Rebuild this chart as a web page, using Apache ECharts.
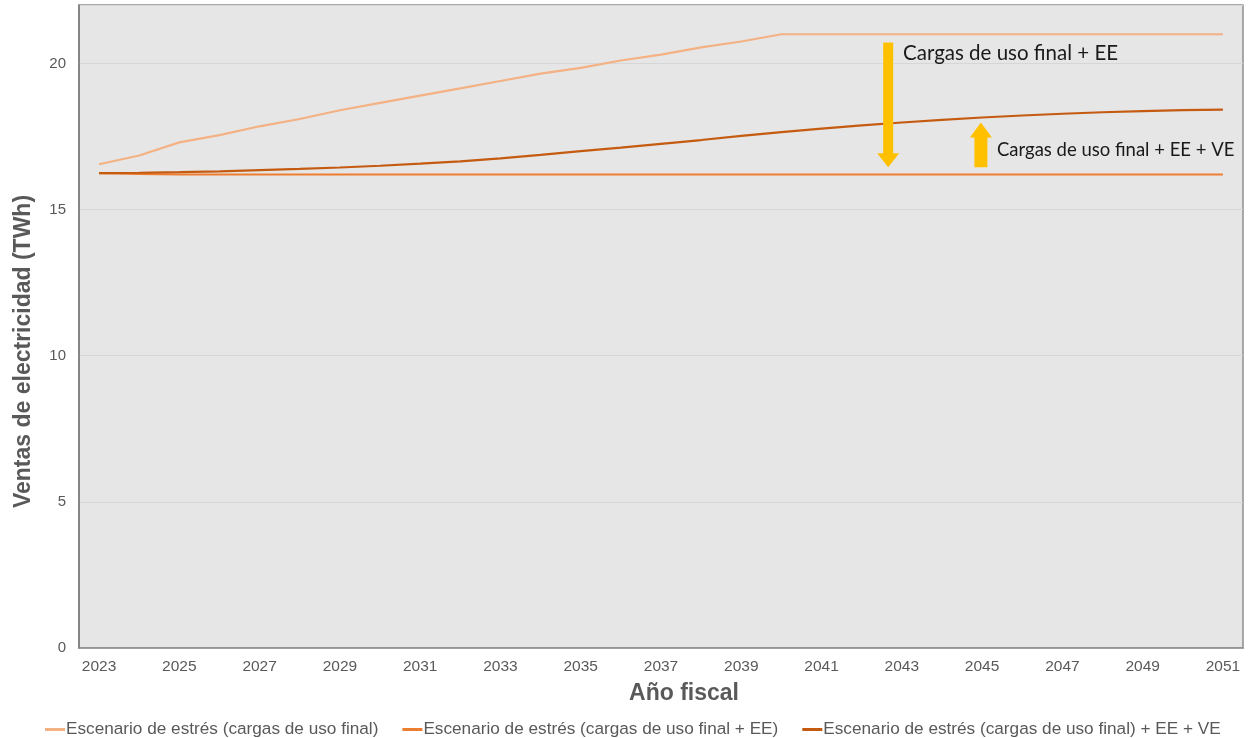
<!DOCTYPE html>
<html>
<head>
<meta charset="utf-8">
<script src="https://cdn.jsdelivr.net/npm/echarts@6/dist/echarts.min.js"></script>
<style>
  html, body { margin: 0; padding: 0; background: #ffffff; }
  #chart { width: 1248px; height: 738px; }
</style>
</head>
<body>
<div id="chart"></div>
<script>
// Fiscal years on the horizontal axis
const years = [
  '2023','2024','2025','2026','2027','2028','2029','2030','2031','2032',
  '2033','2034','2035','2036','2037','2038','2039','2040','2041','2042',
  '2043','2044','2045','2046','2047','2048','2049','2050','2051'
];

// Electricity sales, TWh
const usoFinal = [
  16.55, 16.85, 17.3, 17.55, 17.85, 18.1, 18.4, 18.65, 18.9, 19.15,
  19.4, 19.65, 19.85, 20.1, 20.3, 20.55, 20.75, 21.0, 21.0, 21.0,
  21.0, 21.0, 21.0, 21.0, 21.0, 21.0, 21.0, 21.0, 21.0
];
const usoFinalEE = [
  16.25, 16.22, 16.2, 16.2, 16.2, 16.2, 16.2, 16.2, 16.2, 16.2,
  16.2, 16.2, 16.2, 16.2, 16.2, 16.2, 16.2, 16.2, 16.2, 16.2,
  16.2, 16.2, 16.2, 16.2, 16.2, 16.2, 16.2, 16.2, 16.2
];
const usoFinalEEVE = [
  16.25, 16.26, 16.28, 16.31, 16.35, 16.39, 16.44, 16.5, 16.57, 16.65,
  16.75, 16.87, 17.0, 17.12, 17.25, 17.38, 17.52, 17.65, 17.77, 17.88,
  17.98, 18.07, 18.15, 18.22, 18.28, 18.33, 18.37, 18.4, 18.42
];

const seriesNames = [
  'Escenario de estrés (cargas de uso final)',
  'Escenario de estrés (cargas de uso final + EE)',
  'Escenario de estrés (cargas de uso final) + EE + VE'
];

// Annotation arrows: [year index, from value, to value]
const arrowDown = [19.66, 20.72, 16.45];
const arrowUp = [21.97, 16.45, 17.98];
const noteEE = 'Cargas de uso final + EE';
const noteEEVE = 'Cargas de uso final + EE + VE';

const chart = echarts.init(document.getElementById('chart'));
const axisGray = '#595959';

chart.setOption({
  animation: false,
  backgroundColor: '#ffffff',
  grid: {
    left: 79, right: 5, top: 5, bottom: 90,
    show: true,
    backgroundColor: '#e6e6e6',
    borderColor: '#8f8f8f',
    borderWidth: 1.5
  },
  legend: {
    top: 716,
    left: 40,
    itemGap: 24,
    itemWidth: 20,
    itemHeight: 3,
    icon: 'rect',
    textStyle: { fontFamily: 'Liberation Sans', fontSize: 17.2, color: axisGray, padding: [0, 0, 0, -4] },
    data: seriesNames
  },
  xAxis: {
    type: 'category',
    data: years,
    boundaryGap: true,
    name: 'Año fiscal',
    nameLocation: 'middle',
    nameGap: 34,
    nameTextStyle: { fontFamily: 'Liberation Sans', fontSize: 23, fontWeight: 'bold', color: axisGray, padding: [0, 0, 0, 46] },
    axisLine: { show: true, lineStyle: { color: '#8f8f8f', width: 1.5 } },
    axisTick: { show: false },
    axisLabel: { interval: 1, fontFamily: 'Liberation Sans', fontSize: 15.5, color: axisGray, margin: 11 },
    splitLine: { show: false }
  },
  yAxis: {
    type: 'value',
    min: 0,
    max: 22,
    interval: 5,
    name: 'Ventas de electricidad (TWh)',
    nameLocation: 'middle',
    nameGap: 44,
    nameTextStyle: { fontFamily: 'Liberation Sans', fontSize: 23, fontWeight: 'bold', color: axisGray, padding: [0, 50, 0, 0] },
    axisLine: { show: true, lineStyle: { color: '#7a7a7a', width: 1.5 } },
    axisTick: { show: false },
    axisLabel: { showMaxLabel: false, fontFamily: 'Liberation Sans', fontSize: 15, color: axisGray, margin: 13 },
    splitLine: { show: true, lineStyle: { color: '#d6d6d6', width: 1.2 } }
  },
  series: [
    {
      name: seriesNames[0], type: 'line', data: usoFinal,
      symbol: 'none', smooth: false,
      lineStyle: { color: '#f4b183', width: 2.2 }, itemStyle: { color: '#f4b183' }, z: 3
    },
    {
      name: seriesNames[1], type: 'line', data: usoFinalEE,
      symbol: 'none',
      lineStyle: { color: '#ed7d31', width: 2.2 }, itemStyle: { color: '#ed7d31' }, z: 4
    },
    {
      name: seriesNames[2], type: 'line', data: usoFinalEEVE,
      symbol: 'none',
      lineStyle: { color: '#c55a11', width: 2.2 }, itemStyle: { color: '#c55a11' }, z: 5
    }
  ]
});

// Convert a fractional year index and a value to pixels
function toPx(idx, val) {
  const i0 = Math.floor(idx), i1 = Math.min(i0 + 1, years.length - 1);
  const p0 = chart.convertToPixel({ gridIndex: 0 }, [years[i0], val]);
  const p1 = chart.convertToPixel({ gridIndex: 0 }, [years[i1], val]);
  const t = idx - i0;
  return [p0[0] + (p1[0] - p0[0]) * t, p0[1]];
}

// Build a block arrow polygon pointing from `from` to `to` (vertical)
function arrowPoints(x, yFrom, yTo, shaftW, headW, headH) {
  const dir = yTo > yFrom ? 1 : -1;
  const yNeck = yTo - dir * headH;
  return [
    [x - shaftW / 2, yFrom], [x + shaftW / 2, yFrom],
    [x + shaftW / 2, yNeck], [x + headW / 2, yNeck],
    [x, yTo],
    [x - headW / 2, yNeck], [x - shaftW / 2, yNeck]
  ];
}

const dTop = toPx(arrowDown[0], arrowDown[1]);
const dBot = toPx(arrowDown[0], arrowDown[2]);
const uBot = toPx(arrowUp[0], arrowUp[1]);
const uTop = toPx(arrowUp[0], arrowUp[2]);
const t1 = toPx(arrowDown[0] + 0.37, 20.35);
const t2 = toPx(arrowUp[0] + 0.4, 17.05);

chart.setOption({
  graphic: [
    {
      type: 'polygon', z: 100,
      shape: { points: arrowPoints(dTop[0], dTop[1], dBot[1], 10, 22, 14) },
      style: { fill: '#ffc000' }
    },
    {
      type: 'polygon', z: 100,
      shape: { points: arrowPoints(uBot[0], uBot[1], uTop[1], 13, 22, 15) },
      style: { fill: '#ffc000' }
    },
    {
      type: 'text', z: 100, x: t1[0], y: t1[1],
      style: { text: noteEE, fontFamily: 'Lato', fontSize: 20.5, fill: '#1a1a1a', verticalAlign: 'middle', align: 'left' }
    },
    {
      type: 'text', z: 100, x: t2[0], y: t2[1],
      style: { text: noteEEVE, fontFamily: 'Lato', fontSize: 18.5, fill: '#1a1a1a', verticalAlign: 'middle', align: 'left' }
    }
  ]
});
</script>
</body>
</html>
